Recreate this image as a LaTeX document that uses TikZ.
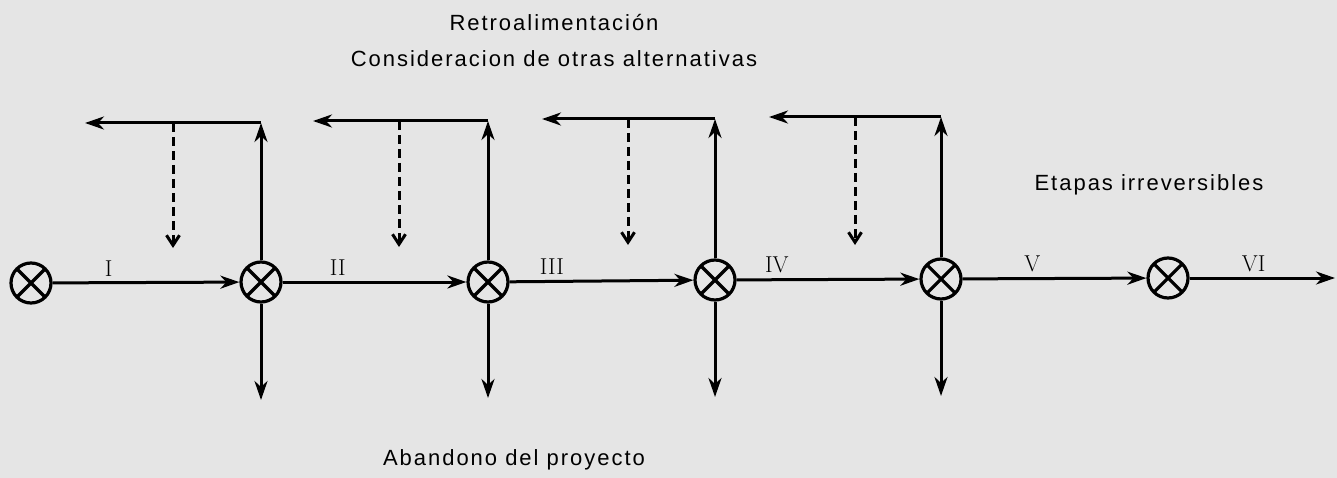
\documentclass[tikz,border=0pt]{standalone}
\usepackage{fontspec}
\setsansfont[LetterSpace=9]{Liberation Sans}
\usetikzlibrary{arrows.meta}
\tikzstyle{junction}=[circle,draw,line width=3.2pt,minimum size=40pt,inner sep=0pt,
  path picture={\draw[line width=3.2pt] (path picture bounding box.south west) -- (path picture bounding box.north east)
                (path picture bounding box.north west) -- (path picture bounding box.south east);}]
\tikzstyle{flow}=[draw,line width=3pt,-{Stealth[length=19pt,width=13pt,inset=6pt]}]
\tikzstyle{trial}=[draw,line width=3pt,dash pattern=on 9pt off 5pt,-{Straight Barb[length=10pt,width=13pt]}]
\tikzstyle{caption}=[font=\sffamily\fontsize{22}{26}\selectfont,inner sep=0pt]
\tikzstyle{stage}=[font=\fontsize{23}{27}\selectfont,above,inner sep=5pt]

\begin{document}
\begin{tikzpicture}[x=1pt,y=-1pt]
    \path[use as bounding box,fill=gray!20] (0,0) rectangle (1337,478);

    % First we draw the junctions
    \foreach \pos/\name in {{(31,283)/j0}, {(261,282)/j1}, {(488,282)/j2}, {(715,280)/j3}, {(941,279)/j4}, {(1168,278)/j5}}
        \node[junction] (\name) at \pos {};

    % loose ends: corners, left ends, dashed starts and ends, abandon ends
    \foreach \pos/\name in {{(1335,278)/out},
        {(261,123)/t1}, {(85,123)/l1}, {(173,123)/d1}, {(173,248)/e1}, {(261,400)/b1},
        {(488,121)/t2}, {(313,121)/l2}, {(399,121)/d2}, {(399,247)/e2}, {(488,398)/b2},
        {(715,119)/t3}, {(542,119)/l3}, {(628,119)/d3}, {(628,245)/e3}, {(715,397)/b3},
        {(941,117)/t4}, {(769,117)/l4}, {(855,117)/d4}, {(855,245)/e4}, {(941,396)/b4}}
        \node[coordinate] (\name) at \pos {};

    % Connect the stages
    \foreach \source/\dest/\lab/\where in {j0/j1/I/0.3, j1/j2/II/0.3, j2/j3/III/0.23, j3/j4/IV/0.22, j4/j5/V/0.38, j5/out/VI/0.44}
        \path[flow] (\source) -- node[stage,pos=\where] {\lab} (\dest);

    % Feedback, other alternatives and abandon
    \foreach \j/\t/\l/\d/\e/\b in {j1/t1/l1/d1/e1/b1, j2/t2/l2/d2/e2/b2, j3/t3/l3/d3/e3/b3, j4/t4/l4/d4/e4/b4} {
        \path[flow] (\j) -- (\t);
        \path[flow] (\t) -- (\l);
        \path[trial] (\d) -- (\e);
        \path[flow] (\j) -- (\b);
    }

    \node[caption] (retro) at (554,23) {Retroalimentación};
    \node[caption] (otras) at (554,59) {Consideracion de otras alternativas};
    \node[caption] (irrev) at (1149,185) {Etapas irreversibles};
    \node[caption] (aband) at (514,460) {Abandono del proyecto};
\end{tikzpicture}
\end{document}
